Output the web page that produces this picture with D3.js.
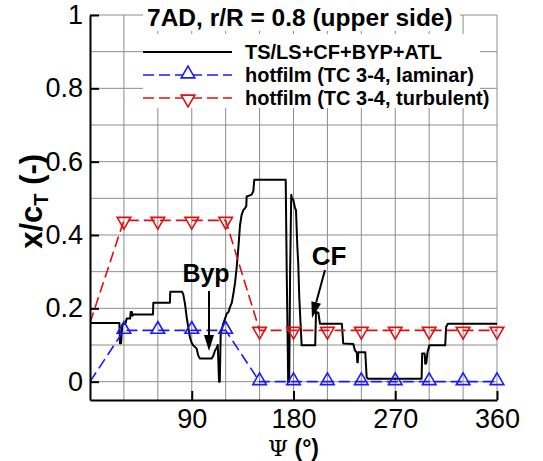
<!DOCTYPE html>
<html><head><meta charset="utf-8">
<script src="https://cdn.jsdelivr.net/npm/d3@7"></script>
<style>
html,body{margin:0;padding:0;background:#fff;}
svg{display:block;}
text{font-family:"Liberation Sans",Arial,Helvetica,sans-serif;}
</style></head>
<body>
<svg id="chart" width="543" height="461"></svg>
<script>
// ---- data ----
const title = "7AD, r/R = 0.8 (upper side)";
const legendLabels = ["TS/LS+CF+BYP+ATL", "hotfilm (TC 3-4, laminar)", "hotfilm (TC 3-4, turbulent)"];
const xTicks = [90, 180, 270, 360];
const xTickLabels = ["90", "180", "270", "360"];
const yTicks = [0, 0.2, 0.4, 0.6, 0.8, 1];
const yTickLabels = ["0", "0.2", "0.4", "0.6", "0.8", "1"];
const xGrid = [30, 60, 90, 120, 150, 180, 210, 240, 270, 300, 330, 360];
const yGrid = [0, 0.1, 0.2, 0.3, 0.4, 0.5, 0.6, 0.7, 0.8, 0.9, 1];

// simulation TS/LS+CF+BYP+ATL
const simPsi = [0, 26, 26.5, 27.5, 28.5, 31.5, 32.5, 35.5, 36, 37, 37.5, 38.5, 55.7, 56, 70.7, 71, 81.5, 82.5, 84, 85.5, 86.9, 88.4, 90, 91.4, 94.3, 95.8, 97.3, 107.6, 109.1, 110.6, 112, 113, 113.6, 114.1, 114.8, 115.6, 118, 121, 122.5, 123.9, 125.4, 126.9, 128.3, 129.7, 131.2, 132.7, 134.1, 135.6, 137.1, 138.2, 138.6, 143, 144.5, 145.3, 173.1, 174, 175.3, 176.2, 177, 178, 178.6, 179.8, 181.3, 182.2, 183.4, 184.2, 185.1, 186.1, 187.2, 199.2, 199.9, 202, 203.4, 222.8, 224, 232.9, 234.4, 236, 236.4, 236.9, 237.3, 243.5, 244.7, 246, 293.3, 293.8, 296, 296.5, 297.4, 298.5, 300.2, 314.2, 315, 316.5, 360];
const simVal = [0.16, 0.16, 0.105, 0.105, 0.155, 0.16, 0.172, 0.172, 0.19, 0.19, 0.18, 0.183, 0.183, 0.215, 0.215, 0.245, 0.245, 0.238, 0.213, 0.176, 0.149, 0.121, 0.105, 0.099, 0.09, 0.071, 0.063, 0.063, 0.071, 0.085, 0.092, 0.1, 0.05, 0.0, 0.0, 0.131, 0.159, 0.186, 0.19, 0.204, 0.215, 0.241, 0.27, 0.31, 0.364, 0.427, 0.455, 0.468, 0.473, 0.478, 0.505, 0.51, 0.52, 0.551, 0.551, 0.3, 0.0, 0.0, 0.3, 0.51, 0.5, 0.496, 0.474, 0.468, 0.368, 0.323, 0.231, 0.167, 0.099, 0.099, 0.19, 0.188, 0.158, 0.158, 0.104, 0.103, 0.085, 0.08, 0.053, 0.053, 0.08, 0.08, 0.012, 0.008, 0.008, 0.077, 0.077, 0.049, 0.05, 0.08, 0.099, 0.099, 0.149, 0.158, 0.158];

// hotfilm measurements
const hfPsi = [0, 30, 60, 90, 120, 150, 180, 210, 240, 270, 300, 330, 360];
const hfLaminar = [0, 0.14, 0.14, 0.14, 0.14, 0, 0, 0, 0, 0, 0, 0, 0];
const hfTurbulent = [0.16, 0.44, 0.44, 0.44, 0.44, 0.14, 0.14, 0.14, 0.14, 0.14, 0.14, 0.14, 0.14];

// ---- drawing ----
const svg = d3.select("#chart");
const x = d3.scaleLinear().domain([0, 360]).range([90, 497]);
const y = d3.scaleLinear().domain([-0.05, 1]).range([400, 15]);
const gridColor = "#8c8c8c";

// grid
const grid = svg.append("g");
grid.selectAll(".gx").data(xGrid).enter().append("line")
  .attr("x1", d => x(d)).attr("x2", d => x(d)).attr("y1", y(-0.05)).attr("y2", y(1))
  .attr("stroke", gridColor).attr("stroke-width", 1);
grid.selectAll(".gy").data(yGrid).enter().append("line")
  .attr("x1", x(0)).attr("x2", x(360)).attr("y1", d => y(d)).attr("y2", d => y(d))
  .attr("stroke", gridColor).attr("stroke-width", 1);

// clip
svg.append("clipPath").attr("id", "clip").append("rect")
  .attr("x", x(0)).attr("y", y(1) - 10).attr("width", x(360) - x(0) + 10).attr("height", y(-0.05) - y(1) + 10);

const plot = svg.append("g").attr("clip-path", "url(#clip)");
const line = d3.line().x(d => x(d[0])).y(d => y(d[1]));

const simData = simPsi.map((p, i) => [p, simVal[i]]);
plot.append("path").datum(simData).attr("d", line)
  .attr("fill", "none").attr("stroke", "#000").attr("stroke-width", 2).attr("stroke-linejoin", "round");

const lamData = hfPsi.map((p, i) => [p, hfLaminar[i]]);
const turData = hfPsi.map((p, i) => [p, hfTurbulent[i]]);
const blue = "#1a1aff", red = "#e01010";
plot.append("path").datum(lamData).attr("d", line)
  .attr("fill", "none").attr("stroke", blue).attr("stroke-width", 1.6).attr("stroke-dasharray", "11,5");
plot.append("path").datum(turData).attr("d", line)
  .attr("fill", "none").attr("stroke", red).attr("stroke-width", 1.6).attr("stroke-dasharray", "11,5");

const tri = d3.symbol().type(d3.symbolTriangle).size(80);
plot.selectAll(".ml").data(lamData.filter(d => d[0] > 0)).enter().append("path")
  .attr("d", tri).attr("transform", d => `translate(${x(d[0])},${y(d[1]) - 1})`)
  .attr("fill", "none").attr("stroke", blue).attr("stroke-width", 1.6);
plot.selectAll(".mt").data(turData.filter(d => d[0] > 0)).enter().append("path")
  .attr("d", tri).attr("transform", d => `translate(${x(d[0])},${y(d[1]) + 1}) rotate(180)`)
  .attr("fill", "none").attr("stroke", red).attr("stroke-width", 1.6);

// axes
const fontSize = 27;
const xAxis = d3.axisBottom(x).tickValues(xTicks).tickFormat((d, i) => xTickLabels[i]).tickSizeInner(-9).tickSizeOuter(0).tickPadding(9);
const gx = svg.append("g").attr("transform", `translate(0,${y(-0.05)})`).call(xAxis);
gx.select(".domain").attr("stroke", "#000").attr("stroke-width", 2);
gx.selectAll(".tick line").attr("stroke", "#000").attr("stroke-width", 2);
gx.selectAll(".tick text").attr("font-size", fontSize).attr("fill", "#000").attr("font-family", "Liberation Sans, Arial, sans-serif");

const yAxis = d3.axisLeft(y).tickValues(yTicks).tickFormat((d, i) => yTickLabels[i]).tickSizeInner(-9).tickSizeOuter(0).tickPadding(7);
const gy = svg.append("g").attr("transform", `translate(${x(0)},0)`).call(yAxis);
gy.select(".domain").attr("stroke", "#000").attr("stroke-width", 2);
gy.selectAll(".tick line").attr("stroke", "#000").attr("stroke-width", 2);
gy.selectAll(".tick text").attr("font-size", fontSize).attr("fill", "#000").attr("font-family", "Liberation Sans, Arial, sans-serif");

// axis titles
const xt = svg.append("text").attr("x", x(180)).attr("y", 456).attr("text-anchor", "middle").attr("font-size", 23);
xt.append("tspan").attr("font-family", "DejaVu Serif, serif").text("\u03A8");
xt.append("tspan").attr("font-weight", "bold").text(" (\u00B0)");

const yt = svg.append("text").attr("transform", `translate(42,${y(0.5) + 3}) rotate(-90)`).attr("text-anchor", "middle")
  .attr("font-size", 31).attr("font-weight", "bold");
yt.append("tspan").text("x/c");
yt.append("tspan").attr("font-size", 20).attr("dy", 6).text("T");
yt.append("tspan").attr("dy", -6).text(" (-)");

// title box and legend
svg.append("rect").attr("x", 143).attr("y", 0).attr("width", 317).attr("height", 31).attr("fill", "#fff");
svg.append("rect").attr("x", 143).attr("y", 34).attr("width", 337).attr("height", 74).attr("fill", "#fff");
svg.append("text").attr("x", 147).attr("y", 26).attr("font-size", 24.5).attr("font-weight", "bold").text(title);

const legY = [52, 75, 98];
const leg = svg.append("g");
leg.append("line").attr("x1", 143).attr("x2", 232).attr("y1", legY[0]).attr("y2", legY[0]).attr("stroke", "#000").attr("stroke-width", 2);
leg.append("line").attr("x1", 143).attr("x2", 232).attr("y1", legY[1]).attr("y2", legY[1]).attr("stroke", blue).attr("stroke-width", 1.6).attr("stroke-dasharray", "11,5");
leg.append("path").attr("d", tri).attr("transform", `translate(188,${legY[1] - 1})`).attr("fill", "#fff").attr("stroke", blue).attr("stroke-width", 1.6);
leg.append("line").attr("x1", 143).attr("x2", 232).attr("y1", legY[2]).attr("y2", legY[2]).attr("stroke", red).attr("stroke-width", 1.6).attr("stroke-dasharray", "11,5");
leg.append("path").attr("d", tri).attr("transform", `translate(188,${legY[2] + 1}) rotate(180)`).attr("fill", "#fff").attr("stroke", red).attr("stroke-width", 1.6);
leg.selectAll(".lt").data(legendLabels).enter().append("text")
  .attr("x", 245).attr("y", (d, i) => legY[i] + 7).attr("font-size", 20).attr("font-weight", "bold").text(d => d);

// annotations
const ann = svg.append("g");
ann.append("text").attr("x", 206).attr("y", 282).attr("text-anchor", "middle").attr("font-size", 25).attr("font-weight", "bold").text("Byp");
ann.append("text").attr("x", 329).attr("y", 265).attr("text-anchor", "middle").attr("font-size", 26).attr("font-weight", "bold").text("CF");
function arrow(x1, y1, x2, y2) {
  const a = Math.atan2(y2 - y1, x2 - x1), L = 16, W = 5;
  const bx = x2 - L * Math.cos(a), by = y2 - L * Math.sin(a);
  ann.append("line").attr("x1", x1).attr("y1", y1).attr("x2", bx).attr("y2", by).attr("stroke", "#000").attr("stroke-width", 2);
  ann.append("path").attr("d", `M${x2},${y2}L${bx + W * Math.sin(a)},${by - W * Math.cos(a)}L${bx - W * Math.sin(a)},${by + W * Math.cos(a)}Z`).attr("fill", "#000");
}
arrow(209, 291, 209, 351);
arrow(325, 270, 312, 318);
</script>
</body></html>
